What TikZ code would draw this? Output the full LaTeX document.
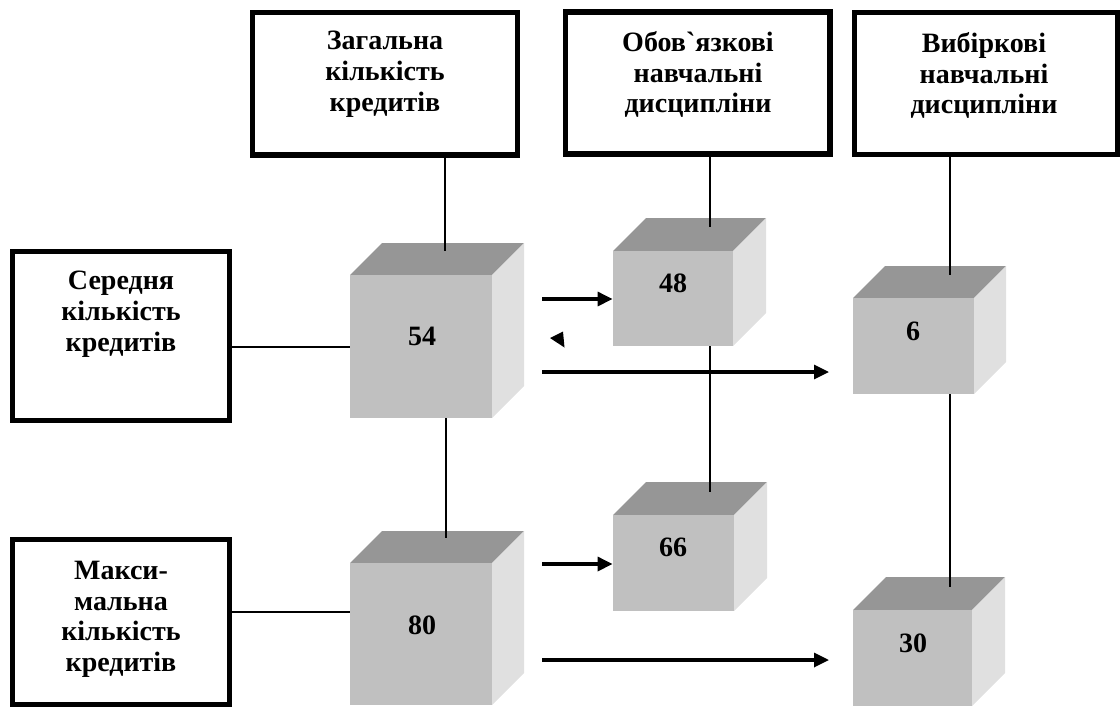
\documentclass[tikz,border=0pt]{standalone}
\usepackage{fontspec}
\setmainfont{Liberation Serif}
\usetikzlibrary{arrows.meta,calc}
\definecolor{topc}{HTML}{969696}
\definecolor{frontc}{HTML}{C0C0C0}
\definecolor{sidec}{HTML}{E0E0E0}
\tikzset{
  bigbox/.style={draw=black, line width=2.9pt, fill=white, inner sep=0pt},
  lbl/.style={font=\fontsize{14}{15.3}\selectfont\bfseries, align=center, inner sep=0pt, anchor=north},
  num/.style={font=\fontsize{14}{15}\selectfont\bfseries, inner sep=0pt},
  front/.style={fill=frontc, inner sep=0pt, draw=none},
  conn/.style={draw=black, line width=1pt},
  arr/.style={draw=black, line width=1.6pt, -{Triangle[length=7.5pt,width=7pt]}},
}
\newcommand\mycube[6]{% #1 name, #2 x1, #3 y1, #4 x2, #5 y2, #6 depth
  \fill[topc] (#2,#3) -- ++(#6,-#6) -- ({#4+#6},{#3-#6}) -- (#4,#3) -- cycle;
  \fill[sidec] (#4,#3) -- ++(#6,-#6) -- ({#4+#6},{#5-#6}) -- (#4,#5) -- cycle;
  \node[front, minimum width={(#4-#2)*0.5pt}, minimum height={(#5-#3)*0.5pt}] (#1) at ({(#2+#4)/2},{(#3+#5)/2}) {};
}
\begin{document}
\begin{tikzpicture}[x=0.5pt,y=-0.5pt]
\useasboundingbox (0,0) rectangle (1120,709);
% cubes
\mycube{c54}{350}{275}{492}{418}{32}
\mycube{c48}{613}{251}{733}{346}{33}
\mycube{c6}{853}{298}{974}{394}{32}
\mycube{c80}{350}{563}{492}{705}{32}
\mycube{c66}{613}{515}{734}{611}{33}
\mycube{c30}{853}{610}{972}{706}{33}
\node[num] (n54) at (422,336) {54};
\node[num] (n48) at (673,283) {48};
\node[num] (n6) at (913,331) {6};
\node[num] (n80) at (422,625) {80};
\node[num] (n66) at (673,547) {66};
\node[num] (n30) at (913,643) {30};
% boxes
\node[bigbox, minimum width=132.5pt, minimum height=71.25pt] (b1) at (385,83.75) {};
\node[bigbox, minimum width=132.25pt, minimum height=71pt] (b2) at (697.75,83) {};
\node[bigbox, minimum width=131.5pt, minimum height=71pt] (b3) at (986,83.5) {};
\node[bigbox, minimum width=108.5pt, minimum height=84.5pt] (lb1) at (121,336) {};
\node[bigbox, minimum width=108.5pt, minimum height=82.5pt] (lb2) at (121,622) {};
\node[lbl] (tb1) at (385,31) {Загальна\\кількість\\кредитів};
\node[lbl] (tb2) at (698,31) {Обов\textasciigrave язкові\\навчальні\\дисципліни};
\node[lbl] (tb3) at (984,32) {Вибіркові\\навчальні\\дисципліни};
\node[lbl] (tlb1) at (121,271) {Середня\\кількість\\кредитів};
\node[lbl] (tlb2) at (121,561) {Макси-\\мальна\\кількість\\кредитів};
% connectors
\coordinate (e54) at (445,251);
\draw[conn] (b1.south -| e54) -- (e54);
\coordinate (e80) at (446,538);
\draw[conn] (c54.south -| e80) -- (e80);
\coordinate (e48) at (710,227);
\draw[conn] (b2.south -| e48) -- (e48);
\coordinate (e66) at (710,492);
\draw[conn] (c48.south -| e66) -- (e66);
\coordinate (e6) at (950,275);
\draw[conn] (b3.south -| e6) -- (e6);
\coordinate (e30) at (950,587);
\draw[conn] (c6.south -| e30) -- (e30);
\draw[conn] (lb1.east |- c54.west) -- (c54.west);
\coordinate (m80) at (350,612);
\draw[conn] (lb2.east |- m80) -- (m80);
% arrows
\coordinate (s48) at (542,299);
\draw[arr] (s48) -- (s48 -| c48.west);
\coordinate (s6) at (542,372);
\coordinate (h6) at (829,372);
\draw[arr] (s6) -- (h6);
\coordinate (s66) at (542,564);
\draw[arr] (s66) -- (s66 -| c66.west);
\coordinate (s30) at (542,660);
\coordinate (h30) at (829,660);
\draw[arr] (s30) -- (h30);
\fill[black] (550,338) -- (563,331.5) -- (564.5,347.5) -- cycle;
\end{tikzpicture}
\end{document}
